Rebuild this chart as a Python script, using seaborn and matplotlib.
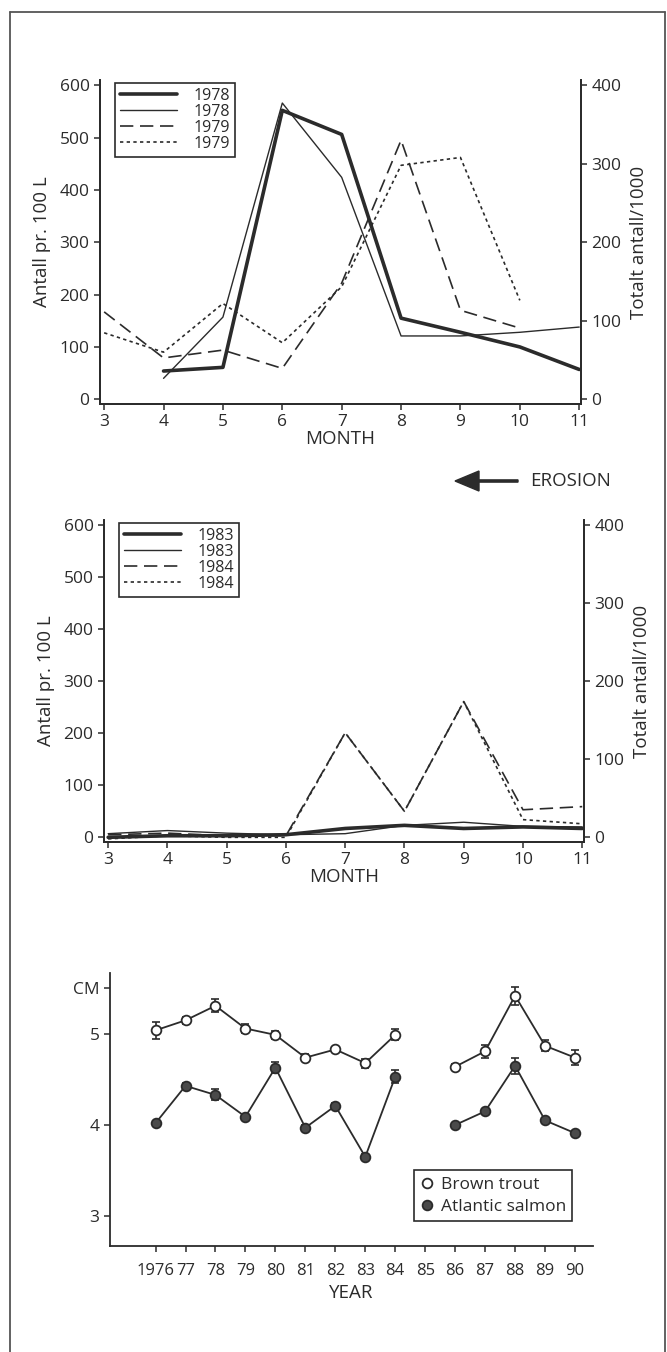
import matplotlib
matplotlib.use("Agg")
import matplotlib.pyplot as plt
from matplotlib.lines import Line2D
import seaborn as sns
import pandas as pd
import numpy as np

# ---------------- data ----------------
months_78 = [4, 5, 6, 7, 8, 9, 10, 11]
y1978_a = [54, 61, 552, 506, 155, 128, 100, 57]      # thick solid
y1978_b = [40, 157, 566, 424, 121, 121, 128, 138]    # thin solid
months_79 = [3, 4, 5, 6, 7, 8, 9, 10]
y1979_a = [167, 79, 94, 59, 222, 495, 170, 136]      # dashed
y1979_b = [127, 90, 183, 108, 215, 447, 462, 189]    # dotted

months_83 = [3, 4, 5, 6, 7, 8, 9, 10, 11]
y1983_a = [0, 3, 3, 5, 17, 23, 17, 20, 17]
y1983_b = [7, 13, 8, 5, 7, 23, 29, 21, 20]
y1984_a = [5, 8, 3, 3, 201, 50, 261, 53, 59]
y1984_b = [-3, 3, 0, 0, 201, 50, 261, 34, 26]

years_1 = [1976, 1977, 1978, 1979, 1980, 1981, 1982, 1983, 1984]
years_2 = [1986, 1987, 1988, 1989, 1990]
trout_1 = [5.04, 5.15, 5.31, 5.06, 4.99, 4.74, 4.83, 4.68, 4.99]
trout_2 = [4.64, 4.81, 5.42, 4.87, 4.74]
trout_err_1 = [0.09, 0.04, 0.07, 0.05, 0.04, 0.04, 0.03, 0.05, 0.06]
trout_err_2 = [0.03, 0.07, 0.10, 0.06, 0.08]
salmon_1 = [4.02, 4.43, 4.33, 4.09, 4.63, 3.97, 4.21, 3.65, 4.53]
salmon_2 = [4.00, 4.15, 4.65, 4.05, 3.91]
salmon_err_1 = [0.02, 0.03, 0.06, 0.03, 0.06, 0.03, 0.03, 0.03, 0.07]
salmon_err_2 = [0.02, 0.03, 0.09, 0.03, 0.02]

month_ticks = [3, 4, 5, 6, 7, 8, 9, 10, 11]
left_ticks = [0, 100, 200, 300, 400, 500, 600]
right_ticks = [0, 100, 200, 300, 400]
year_ticks = list(range(1976, 1991))
year_labels = ["1976", "77", "78", "79", "80", "81", "82", "83", "84", "85",
               "86", "87", "88", "89", "90"]

# ---------------- style ----------------
sns.set_theme(style="ticks")
plt.rcParams["font.family"] = ["Open Sans", "DejaVu Sans"]
INK = "#2b2b2b"
plt.rcParams.update({
    "axes.edgecolor": INK, "xtick.color": INK, "ytick.color": INK,
    "text.color": INK, "axes.labelcolor": INK, "axes.linewidth": 1.3,
    "xtick.major.width": 1.1, "ytick.major.width": 1.1,
    "xtick.major.size": 4, "ytick.major.size": 4,
})

W, H = 667, 1352
fig = plt.figure(figsize=(W / 100, H / 100), dpi=100)
fig.patch.set_facecolor("white")


def px_axes(l, r, t, b):
    return fig.add_axes([l / W, 1 - b / H, (r - l) / W, (b - t) / H])


styles = [dict(lw=2.6, ls="-"),
          dict(lw=1.0, ls="-"),
          dict(lw=1.2, ls=(0, (8, 4))),
          dict(lw=1.2, ls=(0, (2, 2)))]


def month_panel(ax, series, labels):
    handles = []
    for (xs, ys), st, lab in zip(series, styles, labels):
        df = pd.DataFrame({"month": xs, "value": ys})
        sns.lineplot(data=df, x="month", y="value", ax=ax, color=INK,
                     linewidth=st["lw"], linestyle=st["ls"], legend=False)
        handles.append(Line2D([0], [0], color=INK, lw=st["lw"], ls=st["ls"], label=lab))
    ax.set_ylim(-9, 610)
    ax.set_xlim(2.93, 11.03)
    ax.set_xticks(month_ticks)
    ax.set_yticks(left_ticks)
    ax.tick_params(labelsize=12.5)
    ax.set_xlabel("MONTH", fontsize=13.5, labelpad=0)
    ax.set_ylabel("Antall pr. 100 L", fontsize=13.5, labelpad=6)
    ax.spines["top"].set_visible(False)
    ax2 = ax.twinx()
    lo, hi = ax.get_ylim()
    ax2.set_ylim(lo * 2 / 3, hi * 2 / 3)
    ax2.set_yticks(right_ticks)
    ax2.tick_params(labelsize=12.5)
    ax2.set_ylabel("Totalt antall/1000", fontsize=13.5, labelpad=6)
    ax2.spines["top"].set_visible(False)
    leg = ax.legend(handles=handles, loc="upper left", bbox_to_anchor=(0.015, 1.015),
                    fontsize=11.5, frameon=True, fancybox=False, framealpha=1,
                    edgecolor=INK, handlelength=3.6, labelspacing=0.0,
                    borderpad=0.3, handletextpad=1.0)
    leg.get_frame().set_linewidth(1.2)
    return ax2


# ---------- top panel ----------
ax1 = px_axes(100, 581, 80, 404)
month_panel(ax1, [(months_78, y1978_a), (months_78, y1978_b),
                  (months_79, y1979_a), (months_79, y1979_b)],
            ["1978", "1978", "1979", "1979"])

# ---------- middle panel ----------
axm = px_axes(104, 584, 520, 842)
month_panel(axm, [(months_83, y1983_a), (months_83, y1983_b),
                  (months_83, y1984_a), (months_83, y1984_b)],
            ["1983", "1983", "1984", "1984"])

# EROSION arrow
fig.add_artist(matplotlib.patches.FancyArrow(
    518 / W, 1 - 481 / H, -63 / W, 0, width=2.2 / H, head_width=20 / H,
    head_length=24 / W, length_includes_head=True, color=INK,
    transform=fig.transFigure))
fig.text(530 / W, 1 - 481 / H, "EROSION", fontsize=13.5, va="center", ha="left")

# ---------- bottom panel ----------
axb = px_axes(110, 593, 973, 1246)
rows = []
for seg, (ys, vals, errs) in enumerate([(years_1, trout_1, trout_err_1),
                                        (years_2, trout_2, trout_err_2)]):
    for y, v, e in zip(ys, vals, errs):
        rows.append(("Brown trout", seg, y, v, e))
for seg, (ys, vals, errs) in enumerate([(years_1, salmon_1, salmon_err_1),
                                        (years_2, salmon_2, salmon_err_2)]):
    for y, v, e in zip(ys, vals, errs):
        rows.append(("Atlantic salmon", seg, y, v, e))
dfb = pd.DataFrame(rows, columns=["species", "segment", "year", "cm", "err"])

for sp, face in [("Brown trout", "white"), ("Atlantic salmon", "#4a4a4a")]:
    sub = dfb[dfb.species == sp]
    axb.errorbar(sub.year, sub.cm, yerr=sub.err, fmt="none", ecolor=INK,
                 elinewidth=1.2, capsize=3, capthick=1.2, zorder=2)
    sns.lineplot(data=sub, x="year", y="cm", units="segment", estimator=None,
                 ax=axb, color=INK, linewidth=1.3, marker="o", markersize=7,
                 markerfacecolor=face, markeredgecolor=INK, markeredgewidth=1.3,
                 legend=False, zorder=3)

axb.set_xlim(1974.48, 1990.6)
axb.set_ylim(2.67, 5.67)
axb.set_xticks(year_ticks)
axb.set_xticklabels(year_labels)
axb.set_yticks([3, 4, 5, 5.5])
axb.set_yticklabels(["3", "4", "5", "CM"])
axb.tick_params(axis="y", labelsize=12.5)
axb.tick_params(axis="x", labelsize=12, pad=8)
axb.set_xlabel("YEAR", fontsize=13.5, labelpad=4)
axb.set_ylabel("")
sns.despine(ax=axb)

hb = [Line2D([0], [0], color=INK, lw=0, marker="o", markersize=7,
             markerfacecolor="white", markeredgecolor=INK, markeredgewidth=1.3,
             label="Brown trout"),
      Line2D([0], [0], color=INK, lw=0, marker="o", markersize=7,
             markerfacecolor="#4a4a4a", markeredgecolor=INK, markeredgewidth=1.3,
             label="Atlantic salmon")]
legb = axb.legend(handles=hb, loc="lower right", bbox_to_anchor=(0.975, 0.06),
                  fontsize=12.5, frameon=True, fancybox=False, framealpha=1,
                  edgecolor=INK, handlelength=0.8, handletextpad=0.4,
                  labelspacing=0.35, borderpad=0.35)
legb.get_frame().set_linewidth(1.2)

# outer frame
for xs, ys in [([10 / W, 10 / W], [0, 1 - 12 / H]),
               ([10 / W, 665 / W], [1 - 12 / H, 1 - 12 / H]),
               ([665 / W, 665 / W], [0, 1 - 12 / H])]:
    fig.add_artist(Line2D(xs, ys, color="#555555", lw=1.3, transform=fig.transFigure))

fig.savefig("out.png", dpi=100, facecolor="white")
